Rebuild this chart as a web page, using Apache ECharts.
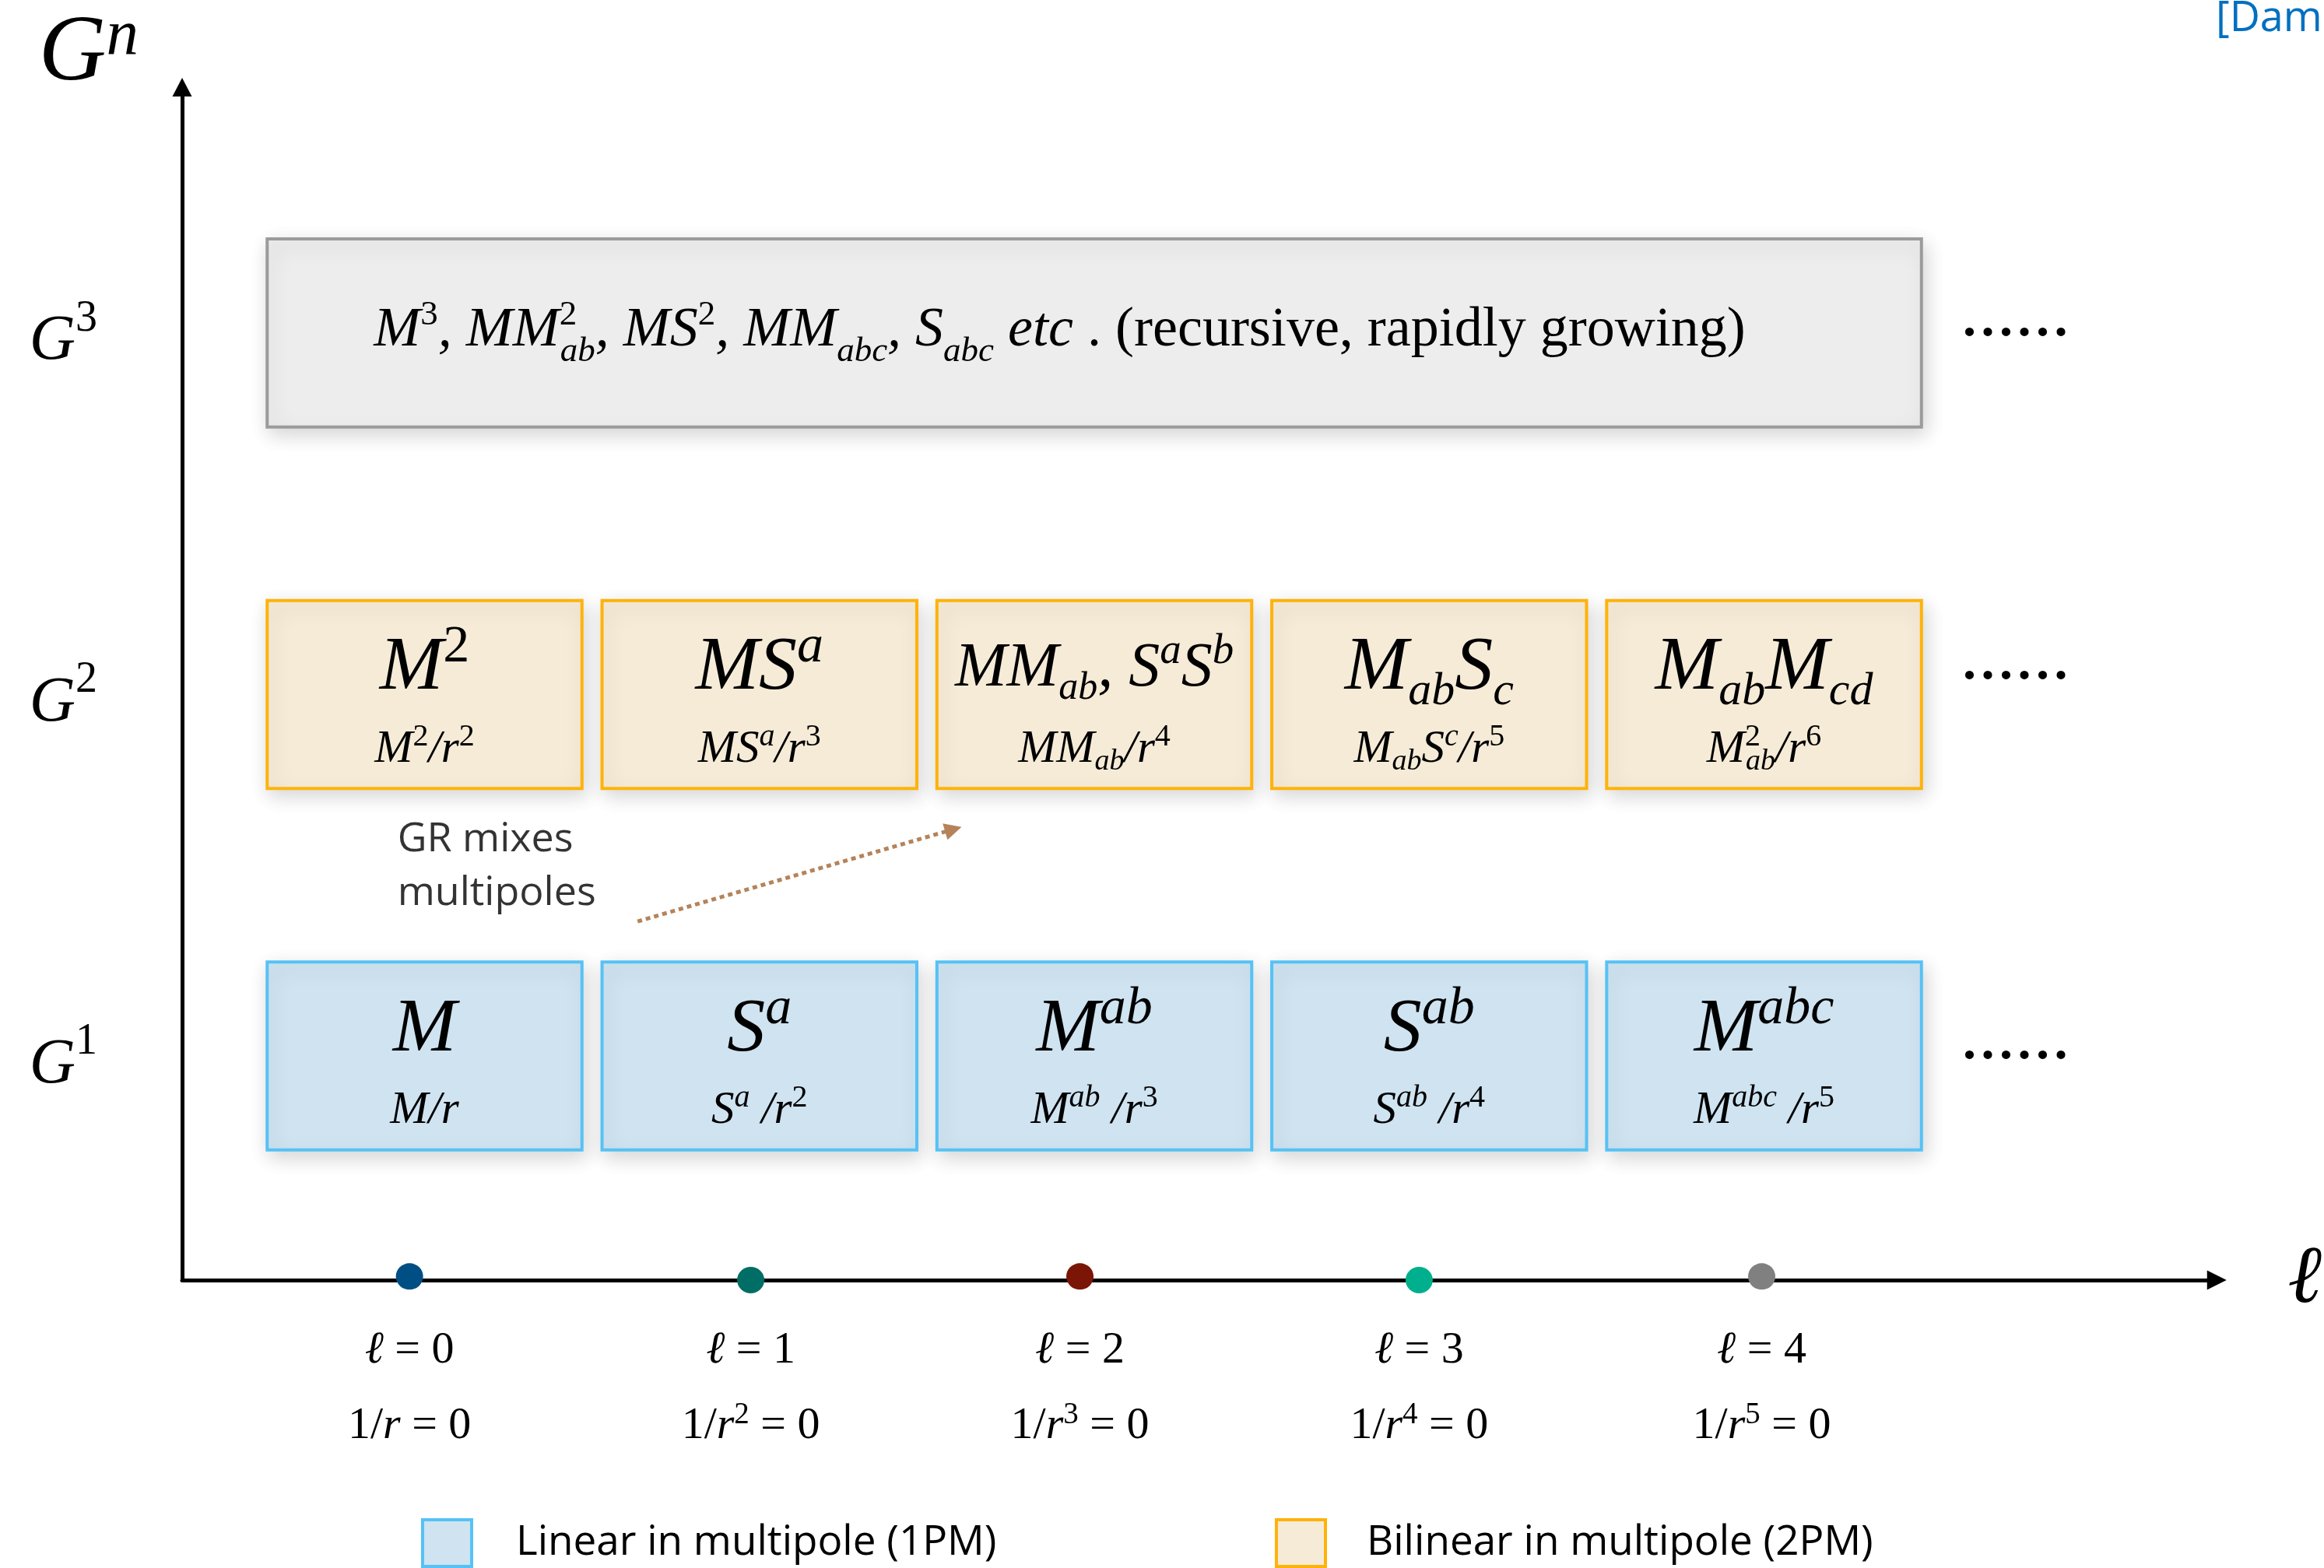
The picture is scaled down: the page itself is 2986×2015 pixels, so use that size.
<!DOCTYPE html>
<html>
<head>
<meta charset="utf-8">
<script src="https://cdn.jsdelivr.net/npm/echarts@6/dist/echarts.min.js"></script>
<style>
html,body{margin:0;padding:0;background:#ffffff;}
#chart{width:2986px;height:2015px;}
</style>
</head>
<body>
<div id="chart"></div>
<script>
// ---------------- data ----------------
const levels = [1, 2, 3];                       // G^1, G^2, G^3 rows
const levelLabels = ['1', '2', '3'];
const ellPositions = [-0.045, 0.974, 1.957, 2.97, 3.993];   // multipole order ℓ markers on the axis
const ellDotY = [0.39, 0.38, 0.39, 0.38, 0.39];
const ellLabels = ['0', '1', '2', '3', '4'];
const radialPowers = ['', '2', '3', '4', '5'];
const boxLeft = [-0.47, 0.53, 1.53, 2.53, 3.53];
const boxRight = [0.47, 1.47, 2.47, 3.47, 4.47];
const g3Span = [-0.47, 4.47];
const boxHalfHeight = 0.26;
const ellipsisX = [4.75, 4.75, 4.75];
const ellipsisY = [1.0, 2.05, 3.0];
const legendNames = ['Linear in multipole (1PM)', 'Bilinear in multipole (2PM)'];
const g1Main = ['{i|M}', '{i|S}{pi|a}', '{i|M}{pi|ab}', '{gi|S}{gpi|ab}', '{gi|M}{gpi|abc}'];
const g1Sub = ['{i|M/r}', '{i|S}{pi|a}{i| /r}{p|2}', '{i|M}{pi|ab}{i| /r}{p|3}', '{i|S}{pi|ab}{i| /r}{p|4}', '{i|M}{pi|abc}{i| /r}{p|5}'];
const g2Main = ['{i|M}{p|2}', '{i|MS}{pi|a}', '{i|MM}{b|ab}{i|, S}{pi|a}{i|S}{pi|b}', '{i|M}{b|ab}{i|S}{b|c}', '{i|M}{b|ab}{i|M}{b|cd}'];
const g2Sub = ['{i|M}{p|2}{i|/r}{p|2}', '{i|MS}{pi|a}{i|/r}{p|3}', '{i|MM}{b|ab}{i|/r}{p|4}', '{i|M}{b|ab}{i|S}{pi|c}{i|/r}{p|5}', '{i|M}{z|2}{b|ab}{i|/r}{p|6}'];
const g3Text = '{i|M}{p|3}{i|, MM}{z|2}{b|ab}{i|, MS}{p|2}{i|, MM}{b|abc}{i|, S}{b|abc}{i| etc}{u| . (recursive, rapidly growing)}';
const arrowCoords = [[0.636, 1.372], [1.579, 1.627]];
const annotationPoint = [-0.081, 1.524];
const annotationText = 'GR mixes\nmultipoles';
const citationText = '[Damour & Iyer 1991]';

// ---------------- styles ----------------
const SERIF = "'Liberation Serif','DejaVu Serif',serif";
const SANS = "'Open Sans','Noto Sans',Lato,sans-serif";
const BLUE_FILL = '#CFE3F1', BLUE_STROKE = '#56C2F5';
const ORANGE_FILL = '#F5EBD7', ORANGE_STROKE = '#FFB20A';
const GRAY_FILL = '#EDEDED', GRAY_STROKE = '#9B9B9B';
const DOT_COLORS = ['#004F84', '#006E64', '#7B1506', '#00AF8D', '#808080'];

// F: base size, fs: superscript size, fb: subscript size, H: line height,
// up/down: shift of super/subscript centre from base centre
function mathRich(F, fs, fb, H, up, down) {
  const base = {fontFamily: SERIF, color: '#000', align: 'left'};
  const it = Object.assign({}, base, {fontStyle: 'italic'});
  const gray = {color: '#595959'};
  const hs = H - 2 * up, hb = H - 2 * down;
  const supBox = {height: hs, lineHeight: hs, verticalAlign: 'top'};
  const subBox = {height: hb, lineHeight: hb, verticalAlign: 'bottom'};
  return {
    i: Object.assign({}, it, {fontSize: F, lineHeight: H}),
    u: Object.assign({}, base, {fontSize: F, lineHeight: H}),
    p: Object.assign({}, base, supBox, {fontSize: fs}),
    pi: Object.assign({}, it, supBox, {fontSize: fs}),
    b: Object.assign({}, it, subBox, {fontSize: fb}),
    z: Object.assign({}, base, supBox, {fontSize: fs, width: 1}),
    gi: Object.assign({}, it, gray, {fontSize: F, lineHeight: H}),
    gpi: Object.assign({}, it, gray, supBox, {fontSize: fs})
  };
}
const BIG = mathRich(98, 68, 60, 120, 27, 30);
const COMPACT = mathRich(80, 55, 50, 100, 22, 25);
const SMALL = mathRich(59, 40, 38, 70, 16, 16);
const G3RICH = mathRich(72, 45, 45, 96, 20, 27);

const SHADOW = {shadowBlur: 24, shadowColor: 'rgba(0,0,0,0.16)', shadowOffsetX: 4, shadowOffsetY: 8};

function boxRenderer(fill, stroke, mains, subs, compactIdx) {
  return function (params, api) {
    const lv = api.value(2);
    const p0 = api.coord([api.value(0), lv + boxHalfHeight]);
    const p1 = api.coord([api.value(1), lv - boxHalfHeight]);
    const w = p1[0] - p0[0], h = p1[1] - p0[1];
    const cx = p0[0] + w / 2, cy = p0[1] + h / 2;
    const i = params.dataIndex;
    return {
      type: 'group',
      children: [
        {type: 'rect', shape: {x: p0[0], y: p0[1], width: w, height: h},
         style: Object.assign({fill: fill, stroke: stroke, lineWidth: 4}, SHADOW)},
        {type: 'text', x: cx, y: cy - 0.136 * h,
         style: {text: mains[i], rich: (compactIdx.indexOf(i) >= 0 ? COMPACT : BIG), align: 'center', verticalAlign: 'middle'}},
        {type: 'text', x: cx, y: cy + 0.293 * h,
         style: {text: subs[i], rich: SMALL, align: 'center', verticalAlign: 'middle'}}
      ]
    };
  };
}

function g3Renderer(params, api) {
  const lv = api.value(2);
  const p0 = api.coord([api.value(0), lv + boxHalfHeight]);
  const p1 = api.coord([api.value(1), lv - boxHalfHeight]);
  const w = p1[0] - p0[0], h = p1[1] - p0[1];
  return {
    type: 'group',
    children: [
      {type: 'rect', shape: {x: p0[0], y: p0[1], width: w, height: h},
       style: Object.assign({fill: GRAY_FILL, stroke: GRAY_STROKE, lineWidth: 4}, SHADOW)},
      {type: 'text', x: p0[0] + 137, y: p0[1] + h / 2 - 3,
       style: {text: g3Text, rich: G3RICH, align: 'left', verticalAlign: 'middle'}}
    ]
  };
}

function ellipsisRenderer(params, api) {
  const p = api.coord([api.value(0), api.value(1)]);
  return {type: 'text', x: p[0], y: p[1] - 22,
    style: {text: '......', fontFamily: SERIF, fontSize: 94, fill: '#000', align: 'center', verticalAlign: 'middle'}};
}

function nearestIndex(arr, v) {
  let best = 0;
  for (let k = 1; k < arr.length; k++) if (Math.abs(arr[k] - v) < Math.abs(arr[best] - v)) best = k;
  return best;
}

const chart = echarts.init(document.getElementById('chart'), null, {renderer: 'canvas'});

const option = {
  backgroundColor: '#ffffff',
  animation: false,
  grid: {left: 234, right: 127, top: 102, bottom: 370, containLabel: false},
  xAxis: {
    type: 'value', min: -0.724, max: 5.352,
    axisLine: {show: true, onZero: false, symbol: ['none', 'triangle'], symbolSize: [25, 25],
      lineStyle: {color: '#000', width: 5}},
    axisTick: {show: false}, splitLine: {show: false},
    axisLabel: {
      customValues: ellPositions, margin: 42,
      formatter: function (v) {
        const i = nearestIndex(ellPositions, v);
        return '{l|ℓ}{e| = ' + ellLabels[i] + '}\n{e|1/}{ei|r}' +
          (radialPowers[i] ? '{p|' + radialPowers[i] + '}' : '') + '{e| = 0}';
      },
      rich: {
        l: {fontFamily: SERIF, fontStyle: 'italic', fontSize: 58, lineHeight: 97, color: '#000'},
        e: {fontFamily: SERIF, fontSize: 58, lineHeight: 97, color: '#000'},
        ei: {fontFamily: SERIF, fontStyle: 'italic', fontSize: 58, lineHeight: 97, color: '#000'},
        p: {fontFamily: SERIF, fontSize: 39, height: 69, lineHeight: 69, verticalAlign: 'top', color: '#000'}
      }
    },
    name: 'ℓ', nameLocation: 'end', nameGap: 91,
    nameTextStyle: {fontFamily: SERIF, fontStyle: 'italic', fontSize: 105, color: '#000', verticalAlign: 'middle'}
  },
  yAxis: {
    type: 'value', min: 0.38, max: 3.68,
    axisLine: {show: true, onZero: false, symbol: ['none', 'triangle'], symbolSize: [25, 24],
      lineStyle: {color: '#000', width: 5}},
    axisTick: {show: false}, splitLine: {show: false},
    axisLabel: {
      customValues: levels, margin: 109, padding: [24, 0, 0, 0],
      formatter: function (v) {
        return '{g|G}{s|' + levelLabels[nearestIndex(levels, v)] + '}';
      },
      rich: {
        g: {fontFamily: SERIF, fontStyle: 'italic', fontSize: 82, lineHeight: 100, color: '#000'},
        s: {fontFamily: SERIF, fontSize: 56, height: 40, lineHeight: 40, verticalAlign: 'top', color: '#000'}
      }
    },
    name: '{g|G}{n|n}', nameLocation: 'end', nameGap: 42,
    nameTextStyle: {
      align: 'right', verticalAlign: 'middle', padding: [0, 56, 0, 0],
      rich: {
        g: {fontFamily: SERIF, fontStyle: 'italic', fontSize: 120, lineHeight: 140, color: '#000'},
        n: {fontFamily: SERIF, fontStyle: 'italic', fontSize: 83, height: 94, lineHeight: 94, verticalAlign: 'top', color: '#000'}
      }
    }
  },
  legend: [
    {data: [{name: legendNames[0], icon: 'rect'}], left: 541, top: 1951, padding: 0, itemWidth: 63, itemHeight: 60,
     selectedMode: false, itemStyle: {color: BLUE_FILL, borderColor: BLUE_STROKE, borderWidth: 4},
     textStyle: {fontFamily: SANS, fontSize: 53, color: '#000', padding: [0, 0, 0, 52]}},
    {data: [{name: legendNames[1], icon: 'rect'}], left: 1638, top: 1951, padding: 0, itemWidth: 63, itemHeight: 60,
     selectedMode: false, itemStyle: {color: ORANGE_FILL, borderColor: ORANGE_STROKE, borderWidth: 4},
     textStyle: {fontFamily: SANS, fontSize: 53, color: '#000', padding: [0, 0, 0, 48]}}
  ],
  graphic: [
    {type: 'text', left: 2847, top: -2,
     style: {text: citationText, fontFamily: SANS, fontSize: 54, fill: '#0070C0'}}
  ],
  series: [
    {type: 'custom', name: legendNames[0], coordinateSystem: 'cartesian2d', silent: true,
     encode: {x: [0, 1], y: 2},
     itemStyle: {color: BLUE_FILL, borderColor: BLUE_STROKE, borderWidth: 4},
     data: boxLeft.map(function (l, i) { return [l, boxRight[i], levels[0]]; }),
     renderItem: boxRenderer(BLUE_FILL, BLUE_STROKE, g1Main, g1Sub, [])},
    {type: 'custom', name: legendNames[1], coordinateSystem: 'cartesian2d', silent: true,
     encode: {x: [0, 1], y: 2},
     itemStyle: {color: ORANGE_FILL, borderColor: ORANGE_STROKE, borderWidth: 4},
     data: boxLeft.map(function (l, i) { return [l, boxRight[i], levels[1]]; }),
     renderItem: boxRenderer(ORANGE_FILL, ORANGE_STROKE, g2Main, g2Sub, [2])},
    {type: 'custom', name: 'G3', coordinateSystem: 'cartesian2d', silent: true,
     encode: {x: [0, 1], y: 2},
     data: [[g3Span[0], g3Span[1], levels[2]]],
     renderItem: g3Renderer},
    {type: 'custom', name: 'ellipsis', coordinateSystem: 'cartesian2d', silent: true,
     data: ellipsisX.map(function (x, i) { return [x, ellipsisY[i]]; }),
     renderItem: ellipsisRenderer},
    {type: 'scatter', name: 'multipole order', silent: true, symbol: 'circle', symbolSize: [35, 34], z: 5,
     data: ellPositions.map(function (x, i) { return {value: [x, ellDotY[i]], itemStyle: {color: DOT_COLORS[i], opacity: 1}}; })},
    {type: 'lines', coordinateSystem: 'cartesian2d', silent: true, z: 4,
     symbol: ['none', 'triangle'], symbolSize: [22, 22],
     lineStyle: {color: '#B5835A', width: 5, type: [6, 5], opacity: 1, curveness: 0},
     data: [{coords: arrowCoords}]},
    {type: 'scatter', name: 'annotation', silent: true, symbolSize: 0,
     data: [annotationPoint],
     label: {show: true, position: 'right', distance: 0, formatter: annotationText,
       fontFamily: SANS, fontSize: 52, lineHeight: 69, color: '#000', align: 'left'}}
  ]
};
chart.setOption(option);
</script>
</body>
</html>
